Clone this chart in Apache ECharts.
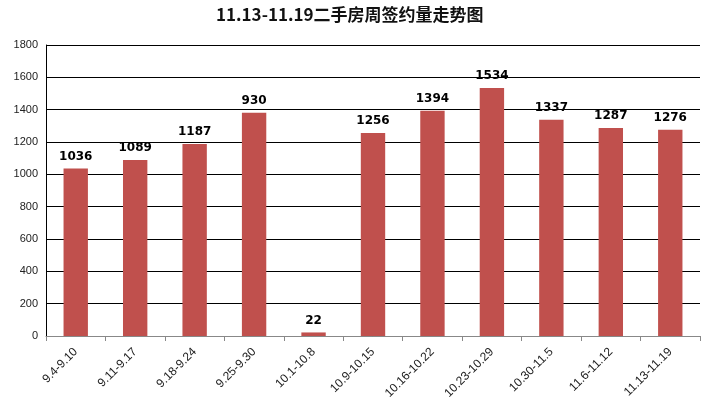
<!DOCTYPE html>
<html>
<head>
<meta charset="utf-8">
<script src="https://cdn.jsdelivr.net/npm/echarts@6/dist/echarts.min.js"></script>
<style>
html,body{margin:0;padding:0;background:#fff;}
#main{width:707px;height:407px;}
</style>
</head>
<body>
<div id="main"></div>
<script>
var categories = ['9.4-9.10', '9.11-9.17', '9.18-9.24', '9.25-9.30', '10.1-10.8', '10.9-10.15', '10.16-10.22', '10.23-10.29', '10.30-11.5', '11.6-11.12', '11.13-11.19'];
var values = [1036, 1089, 1187, 1381, 22, 1256, 1394, 1534, 1337, 1287, 1276];
// the original labels its 9.25-9.30 bar "930" though the bar stands near 1380
var labels = ['1036', '1089', '1187', '930', '22', '1256', '1394', '1534', '1337', '1287', '1276'];
var yTicks = [0, 200, 400, 600, 800, 1000, 1200, 1400, 1600, 1800];

var chart = echarts.init(document.getElementById('main'));
var option = {
    backgroundColor: '#fff',
    title: {
        text: '11.13-11.19二手房周签约量走势图',
        left: 211,
        top: 1,
        textStyle: {
            color: '#111',
            fontSize: 17,
            fontWeight: 'bold',
            fontFamily: 'Noto Sans CJK SC'
        }
    },
    grid: {
        left: 46,
        right: 7,
        top: 45,
        bottom: 71
    },
    xAxis: {
        type: 'category',
        data: categories,
        axisLine: { lineStyle: { color: '#888' } },
        axisTick: { show: true, alignWithLabel: false, length: 5, lineStyle: { color: '#888' } },
        axisLabel: {
            rotate: 45,
            interval: 0,
            color: '#222',
            fontSize: 12,
            fontFamily: 'Liberation Sans',
            margin: 14
        }
    },
    yAxis: {
        type: 'value',
        min: yTicks[0],
        max: yTicks[yTicks.length - 1],
        interval: 200,
        axisLine: { show: true, lineStyle: { color: '#000' } },
        axisTick: { show: false },
        splitLine: { lineStyle: { color: '#000', width: 1 } },
        axisLabel: {
            color: '#222',
            fontSize: 11,
            fontFamily: 'Liberation Sans',
            margin: 8,
            formatter: function (v) { return String(v); }
        }
    },
    series: [{
        type: 'bar',
        data: values,
        barWidth: '41%',
        itemStyle: { color: '#c0504d' },
        label: {
            show: true,
            position: 'top',
            distance: 6,
            color: '#000',
            fontSize: 12,
            fontWeight: 'bold',
            fontFamily: 'DejaVu Sans',
            formatter: function (p) { return labels[p.dataIndex]; }
        }
    }]
};
chart.setOption(option);
</script>
</body>
</html>
